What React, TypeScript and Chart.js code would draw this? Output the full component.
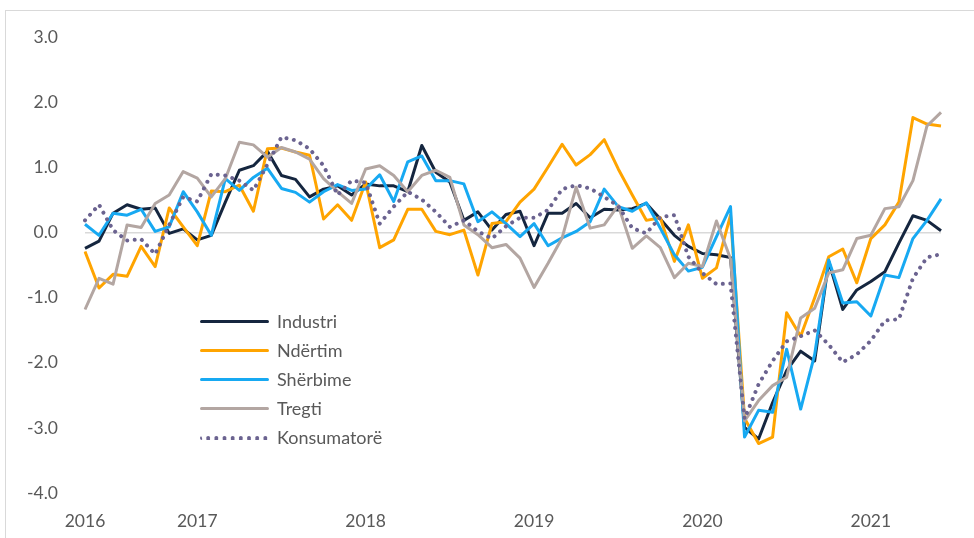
import React, { useEffect, useRef } from "react";
import { Chart, registerables } from "chart.js";

Chart.register(...registerables);

const CATEGORIES = [
  "2016-05", "2016-06", "2016-07", "2016-08", "2016-09", "2016-10", "2016-11", "2016-12",
  "2017-01", "2017-02", "2017-03", "2017-04", "2017-05", "2017-06", "2017-07", "2017-08", "2017-09", "2017-10", "2017-11", "2017-12",
  "2018-01", "2018-02", "2018-03", "2018-04", "2018-05", "2018-06", "2018-07", "2018-08", "2018-09", "2018-10", "2018-11", "2018-12",
  "2019-01", "2019-02", "2019-03", "2019-04", "2019-05", "2019-06", "2019-07", "2019-08", "2019-09", "2019-10", "2019-11", "2019-12",
  "2020-01", "2020-02", "2020-03", "2020-04", "2020-05", "2020-06", "2020-07", "2020-08", "2020-09", "2020-10", "2020-11", "2020-12",
  "2021-01", "2021-02", "2021-03", "2021-04", "2021-05", "2021-06",
];

const INDUSTRI = [
  -0.24, -0.13, 0.3, 0.43, 0.36, 0.38, -0.01, 0.06,
  -0.11, -0.04, 0.47, 0.96, 1.03, 1.25, 0.88, 0.82, 0.55, 0.67, 0.72, 0.58,
  0.75, 0.72, 0.72, 0.63, 1.34, 0.93, 0.78, 0.19, 0.32, 0.04, 0.28, 0.33,
  -0.2, 0.3, 0.3, 0.45, 0.23, 0.36, 0.35, 0.37, 0.45, 0.21, -0.04, -0.21,
  -0.32, -0.34, -0.38, -2.99, -3.17, -2.61, -2.12, -1.82, -1.97, -0.44, -1.18, -0.88,
  -0.75, -0.6, -0.16, 0.26, 0.19, 0.03,
];

const NDERTIM = [
  -0.29, -0.85, -0.64, -0.67, -0.21, -0.52, 0.38, 0.09,
  -0.2, 0.64, 0.63, 0.73, 0.33, 1.29, 1.3, 1.24, 1.19, 0.21, 0.43, 0.19,
  0.78, -0.23, -0.11, 0.36, 0.36, 0.02, -0.03, 0.04, -0.65, 0.14, 0.17, 0.47,
  0.67, 1.01, 1.36, 1.04, 1.2, 1.43, 0.98, 0.58, 0.19, 0.23, -0.44, 0.12,
  -0.7, -0.54, 0.27, -2.85, -3.24, -3.14, -1.23, -1.59, -1.0, -0.37, -0.25, -0.77,
  -0.09, 0.12, 0.47, 1.77, 1.67, 1.64,
];

const SHERBIME = [
  0.13, -0.04, 0.3, 0.27, 0.36, 0.02, 0.09, 0.63,
  0.32, -0.04, 0.83, 0.65, 0.85, 0.99, 0.68, 0.62, 0.47, 0.63, 0.74, 0.65,
  0.67, 0.89, 0.48, 1.09, 1.18, 0.8, 0.8, 0.75, 0.17, 0.32, 0.14, -0.06,
  0.14, -0.2, -0.08, 0.02, 0.17, 0.67, 0.4, 0.33, 0.46, 0.07, -0.34, -0.59,
  -0.53, -0.06, 0.4, -3.14, -2.73, -2.76, -1.79, -2.71, -1.87, -0.42, -1.08, -1.06,
  -1.28, -0.65, -0.69, -0.09, 0.19, 0.52,
];

const TREGTI = [
  -1.18, -0.7, -0.79, 0.12, 0.08, 0.45, 0.58, 0.94,
  0.84, 0.55, 0.83, 1.39, 1.35, 1.16, 1.31, 1.24, 1.13, 0.83, 0.63, 0.45,
  0.98, 1.03, 0.88, 0.63, 0.88, 0.96, 0.85, 0.12, -0.03, -0.23, -0.18, -0.39,
  -0.84, -0.47, -0.08, 0.7, 0.07, 0.12, 0.42, -0.24, -0.05, -0.23, -0.69, -0.47,
  -0.52, 0.18, -0.4, -2.89, -2.58, -2.35, -2.22, -1.31, -1.16, -0.62, -0.57, -0.09,
  -0.04, 0.37, 0.4, 0.8, 1.64, 1.85,
];

const KONSUMATORE = [
  0.19, 0.43, 0.04, -0.12, -0.1, -0.33, 0.12, 0.55,
  0.48, 0.9, 0.88, 0.8, 0.65, 1.05, 1.47, 1.42, 1.29, 1.03, 0.58, 0.8,
  0.77, 0.14, 0.4, 0.63, 0.51, 0.32, 0.09, 0.19, 0.02, -0.09, 0.1, 0.23,
  0.23, 0.35, 0.67, 0.73, 0.68, 0.55, 0.41, 0.07, -0.01, 0.24, 0.27, -0.37,
  -0.62, -0.79, -0.78, -2.86, -2.33, -1.97, -1.67, -1.59, -1.5, -1.72, -1.99, -1.87,
  -1.66, -1.35, -1.33, -0.7, -0.38, -0.33,
];

const SERIES_NAMES = ["Industri", "Ndërtim", "Shërbime", "Tregti", "Konsumatorë"];
const COLORS = ["#15263f", "#ffa400", "#17a9f2", "#b3a6a2", "#6b6390"];

const FONT = "Lato, 'Open Sans', sans-serif";
const TEXT = "#595959";

export default function App() {
  const ref = useRef<HTMLCanvasElement | null>(null);

  useEffect(() => {
    if (!ref.current) return;
    const values = [INDUSTRI, NDERTIM, SHERBIME, TREGTI, KONSUMATORE];
    const chart = new Chart(ref.current, {
      type: "line",
      data: {
        labels: CATEGORIES,
        datasets: values.map((d, i) => ({
          label: SERIES_NAMES[i],
          data: d,
          borderColor: COLORS[i],
          backgroundColor: COLORS[i],
          borderWidth: i === 4 ? 4 : 3,
          borderDash: i === 4 ? [0.01, 7.5] : [],
          borderCapStyle: i === 4 ? "round" : "butt",
          borderJoinStyle: "round",
          pointRadius: 0,
          tension: 0,
          fill: false,
          order: 4 - i,
        })),
      },
      options: {
        animation: false,
        responsive: false,
        events: [],
        layout: { padding: { left: 0, right: 33, top: 35, bottom: 0 } },
        plugins: { legend: { display: false }, tooltip: { enabled: false } },
        scales: {
          x: {
            type: "category",
            offset: false,
            grid: { display: false, drawTicks: false },
            border: { display: false },
            afterFit: (s: any) => {
              s.height = 45;
            },
            ticks: {
              autoSkip: false,
              maxRotation: 0,
              minRotation: 0,
              padding: 18,
              color: TEXT,
              font: { family: FONT, size: 17.5 },
              callback: (_v: any, idx: number) => {
                const c = CATEGORIES[idx];
                return idx === 0 || c.endsWith("-01") ? c.slice(0, 4) : "";
              },
            },
          },
          y: {
            min: -4,
            max: 3,
            afterFit: (s: any) => {
              s.width = 85;
            },
            border: { display: false },
            grid: {
              drawTicks: false,
              lineWidth: 1.5,
              color: (ctx: any) => (ctx.tick && ctx.tick.value === 0 ? "#d9d9d9" : "rgba(0,0,0,0)"),
            },
            ticks: {
              stepSize: 1,
              padding: 27,
              color: TEXT,
              font: { family: FONT, size: 17.5 },
              callback: (v: any) => Number(v).toFixed(1),
            },
          },
        },
      },
    });
    return () => chart.destroy();
  }, []);

  const legendTop = 322;
  const legendGap = 29;

  return (
    <div
      style={{
        position: "fixed",
        left: 0,
        top: 0,
        width: 974,
        height: 538,
        background: "#fff",
        overflow: "hidden",
      }}
    >
      <div
        style={{
          position: "absolute",
          left: 5,
          top: 10,
          width: 1000,
          height: 600,
          borderLeft: "1.5px solid #d9d9d9",
          borderTop: "1.5px solid #d9d9d9",
        }}
      />
      <canvas
        ref={ref}
        width={974}
        height={538}
        style={{ position: "absolute", left: 0, top: 0, width: 974, height: 538 }}
      />
      {SERIES_NAMES.map((name, i) => (
        <div key={name}>
          <div
            style={{
              position: "absolute",
              left: 200,
              top: legendTop + i * legendGap - 2,
              width: 69,
              height: 0,
              borderTop: i === 4 ? `4px dotted ${COLORS[i]}` : `3.5px solid ${COLORS[i]}`,
              borderRadius: 2,
            }}
          />
          <div
            style={{
              position: "absolute",
              left: 277,
              top: legendTop + i * legendGap - 12,
              fontFamily: FONT,
              fontSize: 18,
              lineHeight: "22px",
              color: TEXT,
              whiteSpace: "nowrap",
            }}
          >
            {name}
          </div>
        </div>
      ))}
    </div>
  );
}
